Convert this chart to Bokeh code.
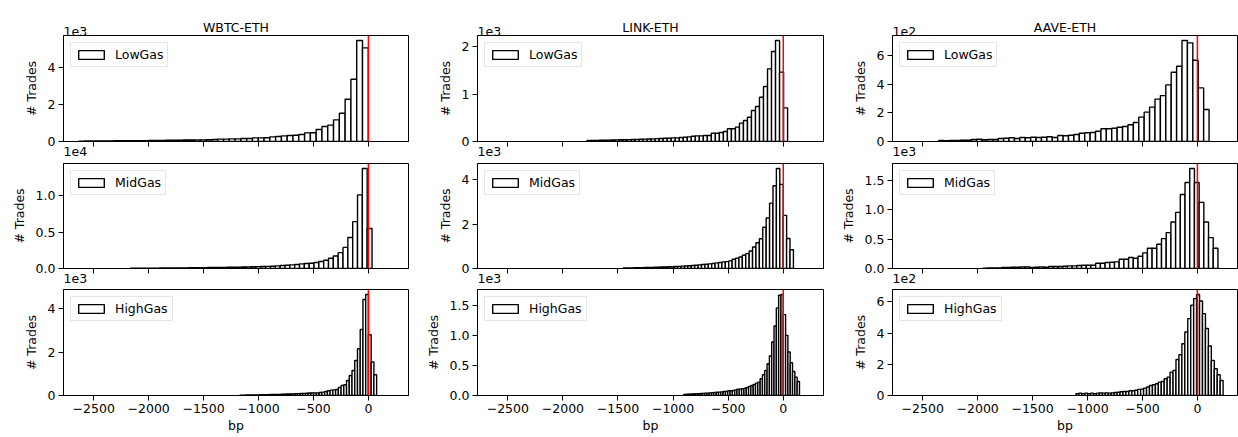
from bokeh.plotting import figure
from bokeh.layouts import column, row
from bokeh.models import Range1d, FixedTicker, Span, Title, Legend, LegendItem
from bokeh.embed import file_html
from bokeh.resources import INLINE

# ---------------- data ----------------
pairs = ["WBTC-ETH", "LINK-ETH", "AAVE-ETH"]
gas_levels = ["LowGas", "MidGas", "HighGas"]

x_ticks = [-2500, -2000, -1500, -1000, -500, 0]
x_tick_labels = ["\u22122500", "\u22122000", "\u22121500", "\u22121000", "\u2212500", "0"]

# histogram bins: first edge (bp), bin width (bp), counts per bin
wbtc_low_start, wbtc_low_width = -2636, 52.7
wbtc_low_counts = [20, 25, 28, 30, 33, 36, 38, 40, 42, 45, 48, 50, 55, 58, 60, 65, 70, 72, 78, 85,
                   90, 90, 95, 108, 126, 126, 144, 144, 162, 162, 198, 198, 205, 252, 270, 306, 324,
                   342, 378, 468, 470, 648, 810, 883, 1171, 1531, 2288, 3369, 5459, 5063]
wbtc_mid_start, wbtc_mid_width = -2167, 44.0
wbtc_mid_counts = [30, 35, 40, 45, 50, 55, 60, 65, 70, 75, 80, 90, 95, 100, 110, 120, 130, 140, 150,
                   160, 170, 180, 195, 210, 225, 240, 255, 271, 294, 317, 362, 407, 452, 498, 543,
                   633, 679, 724, 814, 950, 1131, 1403, 1719, 2172, 2896, 4253, 6425, 10090, 13710, 5475]
wbtc_high_start, wbtc_high_width = -1170, 24.9
wbtc_high_counts = [15, 18, 20, 22, 25, 27, 30, 32, 35, 38, 40, 43, 46, 50, 54, 58, 62, 66, 70, 75,
                    80, 86, 92, 98, 105, 112, 118, 123, 123, 139, 154, 185, 216, 246, 262, 277, 370,
                    462, 493, 693, 924, 1155, 1617, 2156, 3049, 4435, 4661, 2803, 1550, 955]

link_low_start, link_low_width = -1781, 36.4
link_low_counts = [20, 22, 24, 26, 28, 30, 32, 34, 36, 38, 40, 42, 45, 48, 50, 53, 56, 60, 63, 67,
                   70, 77, 77, 84, 91, 98, 112, 119, 119, 126, 126, 175, 175, 189, 211, 267, 267,
                   302, 386, 442, 512, 653, 737, 933, 1158, 1530, 1895, 2126, 1460, 709]
link_mid_start, link_mid_width = -1453, 30.9
link_mid_counts = [25, 28, 30, 33, 36, 40, 43, 46, 50, 55, 60, 65, 70, 76, 82, 90, 98, 106, 115, 124,
                   134, 149, 164, 178, 193, 208, 223, 253, 268, 297, 312, 342, 416, 461, 520, 595,
                   669, 788, 967, 1160, 1338, 1859, 2275, 2944, 3732, 4506, 3792, 2394, 1353, 848]
link_high_start, link_high_width = -903, 21.0
link_high_counts = [18, 20, 22, 24, 26, 28, 30, 32, 35, 38, 40, 43, 46, 50, 53, 56, 61, 67, 67, 78,
                    78, 83, 94, 106, 106, 111, 122, 133, 150, 167, 183, 206, 222, 278, 344, 417, 528,
                    656, 889, 1156, 1456, 1667, 1678, 1344, 1000, 722, 544, 400, 306, 233]

aave_low_start, aave_low_width = -2354, 49.2
aave_low_counts = [7, 5, 7, 7, 9, 9, 14, 16, 12, 14, 14, 21, 23, 26, 21, 28, 26, 30, 28, 30,
                   33, 28, 42, 40, 44, 49, 58, 61, 63, 72, 89, 89, 93, 100, 105, 117, 133, 171,
                   206, 241, 297, 322, 397, 486, 528, 708, 692, 570, 376, 224]
aave_mid_start, aave_mid_width = -1953, 42.8
aave_mid_counts = [6, 11, 11, 11, 17, 17, 23, 23, 28, 28, 17, 23, 28, 23, 34, 34, 34, 39, 45, 45,
                   51, 56, 56, 56, 90, 90, 101, 107, 113, 158, 158, 186, 175, 209, 265, 344, 344,
                   411, 507, 609, 789, 953, 1257, 1460, 1697, 1460, 1122, 789, 524, 344]
aave_high_start, aave_high_width = -1106, 26.8
aave_high_counts = [12, 15, 12, 15, 12, 15, 12, 15, 17, 15, 17, 15, 17, 19, 21, 24, 26, 26, 30, 30,
                    34, 39, 41, 47, 54, 64, 69, 75, 86, 90, 107, 118, 150, 161, 231, 261, 332, 407,
                    493, 579, 621, 647, 606, 525, 429, 317, 225, 171, 133, 96]

# y-axis scale exponents (offset text) and tick labels
wbtc_exps = [3, 4, 3]
link_exps = [3, 3, 3]
aave_exps = [2, 3, 2]
wbtc_yticks = [[0, 2, 4], [0, 0.5, 1.0], [0, 2, 4]]
wbtc_ytick_labels = [["0", "2", "4"], ["0.0", "0.5", "1.0"], ["0", "2", "4"]]
link_yticks = [[0, 1, 2], [0, 2, 4], [0, 0.5, 1.0, 1.5]]
link_ytick_labels = [["0", "1", "2"], ["0", "2", "4"], ["0.0", "0.5", "1.0", "1.5"]]
aave_yticks = [[0, 2, 4, 6], [0, 0.5, 1.0, 1.5], [0, 2, 4, 6]]
aave_ytick_labels = [["0", "2", "4", "6"], ["0.0", "0.5", "1.0", "1.5"], ["0", "2", "4", "6"]]

panels = {
    "WBTC-ETH": [(wbtc_low_start, wbtc_low_width, wbtc_low_counts),
                 (wbtc_mid_start, wbtc_mid_width, wbtc_mid_counts),
                 (wbtc_high_start, wbtc_high_width, wbtc_high_counts)],
    "LINK-ETH": [(link_low_start, link_low_width, link_low_counts),
                 (link_mid_start, link_mid_width, link_mid_counts),
                 (link_high_start, link_high_width, link_high_counts)],
    "AAVE-ETH": [(aave_low_start, aave_low_width, aave_low_counts),
                 (aave_mid_start, aave_mid_width, aave_mid_counts),
                 (aave_high_start, aave_high_width, aave_high_counts)],
}
exps = {"WBTC-ETH": wbtc_exps, "LINK-ETH": link_exps, "AAVE-ETH": aave_exps}
yticks = {"WBTC-ETH": wbtc_yticks, "LINK-ETH": link_yticks, "AAVE-ETH": aave_yticks}
ytick_labels = {"WBTC-ETH": wbtc_ytick_labels, "LINK-ETH": link_ytick_labels, "AAVE-ETH": aave_ytick_labels}

# ---------------- style / layout ----------------
FONT = "DejaVu Sans"
FS = "12.5px"
X_START, X_END = -2775, 365
col_frame_w = [345, 346, 345]
col_border_left = [63, 64, 64]
col_border_right = [5, 5, 1]
row_frame_h = [106, 105, 106]
row_border_top = [35, 1, 1]
row_border_bottom = [21, 20, 42]
offset_standoff = [-1, -2]   # standoff of the offset text that sits under rows 0 and 1


def text_title(text, align, standoff, valign):
    return Title(text=text, align=align, offset=0, standoff=standoff, vertical_align=valign,
                 text_font=FONT, text_font_size=FS, text_font_style="normal", text_color="black")


rows = []
for ri, gas in enumerate(gas_levels):
    figs = []
    for ci, pair in enumerate(pairs):
        start, width, counts = panels[pair][ri]
        scale = 10 ** exps[pair][ri]
        centers = [start + width * (i + 0.5) for i in range(len(counts))]
        tops = [c / scale for c in counts]
        y_end = max(counts) * 1.05 / scale
        fw, fh = col_frame_w[ci], row_frame_h[ri]

        p = figure(frame_width=fw, frame_height=fh,
                   x_range=Range1d(X_START, X_END), y_range=Range1d(0, y_end),
                   output_backend="svg", toolbar_location=None,
                   min_border_left=col_border_left[ci], min_border_right=col_border_right[ci],
                   min_border_top=row_border_top[ri], min_border_bottom=row_border_bottom[ri])
        p.xgrid.visible = False
        p.ygrid.visible = False
        p.outline_line_color = "black"
        p.outline_line_width = 1
        p.background_fill_color = "white"
        p.border_fill_color = "white"

        r = p.vbar(x=centers, width=width, bottom=0, top=tops,
                   fill_color="white", line_color="black", line_width=1.4)

        p.add_layout(Span(location=0, dimension="height", line_color="#ff0000", line_width=1.5))

        for ax in (p.xaxis[0], p.yaxis[0]):
            ax.axis_line_color = "black"
            ax.axis_line_width = 1
            ax.major_tick_line_color = "black"
            ax.major_tick_line_width = 1
            ax.major_tick_out = 5
            ax.major_tick_in = 0
            ax.minor_tick_line_color = None
            ax.major_label_text_font = FONT
            ax.major_label_text_font_size = FS
            ax.major_label_text_color = "black"
            ax.axis_label_text_font = FONT
            ax.axis_label_text_font_size = FS
            ax.axis_label_text_font_style = "normal"
            ax.axis_label_text_color = "black"
            ax.major_label_standoff = 3

        p.xaxis.ticker = FixedTicker(ticks=x_ticks)
        if ri == 2:
            p.xaxis.major_label_overrides = {t: lab for t, lab in zip(x_ticks, x_tick_labels)}
            p.xaxis.axis_label = "bp"
            p.xaxis.axis_label_standoff = 2
        else:
            p.xaxis.major_label_overrides = {t: "" for t in x_ticks}
            p.xaxis.major_label_standoff = 0

        yt = yticks[pair][ri]
        p.yaxis.ticker = FixedTicker(ticks=yt)
        p.yaxis.major_label_overrides = {t: lab for t, lab in zip(yt, ytick_labels[pair][ri])}
        p.yaxis.axis_label = "# Trades"
        p.yaxis.axis_label_standoff = 6

        if ri == 0:
            # offset text of this panel, then the column title
            p.add_layout(text_title("1e%d" % exps[pair][0], "left", -2, "middle"), "above")
            p.add_layout(text_title(pair, "center", -16, "bottom"), "above")
        if ri < 2:
            # offset text of the panel below, placed in the gap under this frame
            p.add_layout(text_title("1e%d" % exps[pair][ri + 1], "left", offset_standoff[ri], "middle"),
                         "below")

        legend = Legend(items=[LegendItem(label=gas, renderers=[r])], location="top_left",
                        label_text_font=FONT, label_text_font_size=FS, label_text_color="black",
                        glyph_width=32, glyph_height=11, label_standoff=8, label_height=15,
                        padding=4, margin=7, spacing=0,
                        border_line_color="#cccccc", border_line_width=1,
                        background_fill_color="white", background_fill_alpha=0.8)
        p.add_layout(legend)
        figs.append(p)
    rows.append(row(*figs))

layout = column(*rows)
open("out.html", "w").write(file_html(layout, INLINE))
